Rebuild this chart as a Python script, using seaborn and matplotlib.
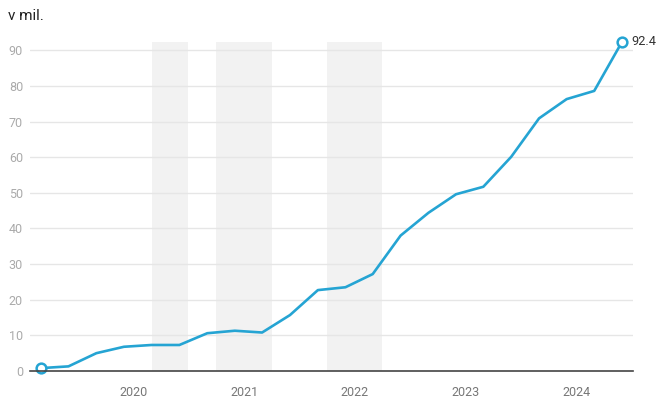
import matplotlib
matplotlib.use("Agg")
import matplotlib.pyplot as plt
import matplotlib.dates as mdates
import seaborn as sns
import pandas as pd

# ---- data ----
dates = ["2019-03-01", "2019-06-01", "2019-09-01", "2019-12-01",
         "2020-03-01", "2020-06-01", "2020-09-01", "2020-12-01",
         "2021-03-01", "2021-06-01", "2021-09-01", "2021-12-01",
         "2022-03-01", "2022-06-01", "2022-09-01", "2022-12-01",
         "2023-03-01", "2023-06-01", "2023-09-01", "2023-12-01",
         "2024-03-01", "2024-06-01"]
values = [0.8, 1.3, 5.0, 6.8, 7.3, 7.3, 10.6, 11.3, 10.8, 15.7, 22.7, 23.5,
          27.2, 38.0, 44.4, 49.6, 51.7, 60.1, 70.9, 76.3, 78.6, 92.4]
shade_starts = ["2020-03-01", "2020-10-01", "2021-10-01"]
shade_ends = ["2020-07-01", "2021-04-01", "2022-04-01"]
year_ticks = ["2020-01-01", "2021-01-01", "2022-01-01", "2023-01-01", "2024-01-01"]
year_labels = ["2020", "2021", "2022", "2023", "2024"]
y_ticks = [0, 10, 20, 30, 40, 50, 60, 70, 80, 90]
title = "v mil."

df = pd.DataFrame({"date": pd.to_datetime(dates), "value": values})

sns.set_style("white")
plt.rcParams["font.family"] = ["Roboto", "DejaVu Sans"]

LINE = "#25a4d3"

fig = plt.figure(figsize=(6.58, 4.01), dpi=100)
H = 401.0
W = 658.0
ax = fig.add_axes([30 / W, 30 / H, (633 - 30) / W, (371 - 39.6) / H])

# shaded periods
ymax_val = max(values)
for s, e in zip(shade_starts, shade_ends):
    ax.fill_between(pd.to_datetime([s, e]), 0, ymax_val, color="#f2f2f2",
                    lw=0, zorder=0)

# grid lines
for t in y_ticks[1:]:
    ax.axhline(t, color="#e6e6e6", lw=1, zorder=1)

sns.lineplot(data=df, x="date", y="value", ax=ax, color=LINE, lw=1.9,
             zorder=3, legend=False)

ends = df.iloc[[0, -1]]
ax.plot(ends["date"], ends["value"], linestyle="none", marker="o",
        markersize=7, markerfacecolor="white", markeredgecolor=LINE,
        markeredgewidth=1.8, zorder=4, clip_on=False)

ax.annotate(f"{values[-1]:.1f}", xy=(df["date"].iloc[-1], values[-1]),
            xytext=(7, 0), textcoords="offset points", va="center",
            ha="left", fontsize=9.2, color="#333333", annotation_clip=False)

ax.set_xlim(pd.Timestamp("2019-01-25"), pd.Timestamp("2024-07-07"))
ax.set_ylim(0, 93)

ax.set_yticks(y_ticks)
ax.set_yticklabels([str(t) for t in y_ticks])
ax.set_xticks(pd.to_datetime(year_ticks))
ax.set_xticklabels(year_labels)

ax.tick_params(axis="y", length=0, pad=5, labelsize=9, labelcolor="#aaaaaa")
ax.tick_params(axis="x", length=6, width=1.2, color="#555555", pad=5,
               labelsize=9, labelcolor="#777777", direction="out")

for side in ["top", "right", "left"]:
    ax.spines[side].set_visible(False)
ax.spines["bottom"].set_color("#444444")
ax.spines["bottom"].set_linewidth(1.2)
ax.spines["bottom"].set_zorder(5)

ax.set_xlabel("")
ax.set_ylabel("")

fig.text(8 / W, 1 - 20 / H, title, fontsize=11, color="#222222",
         ha="left", va="baseline")

fig.savefig("out.png", dpi=100, facecolor="white")
